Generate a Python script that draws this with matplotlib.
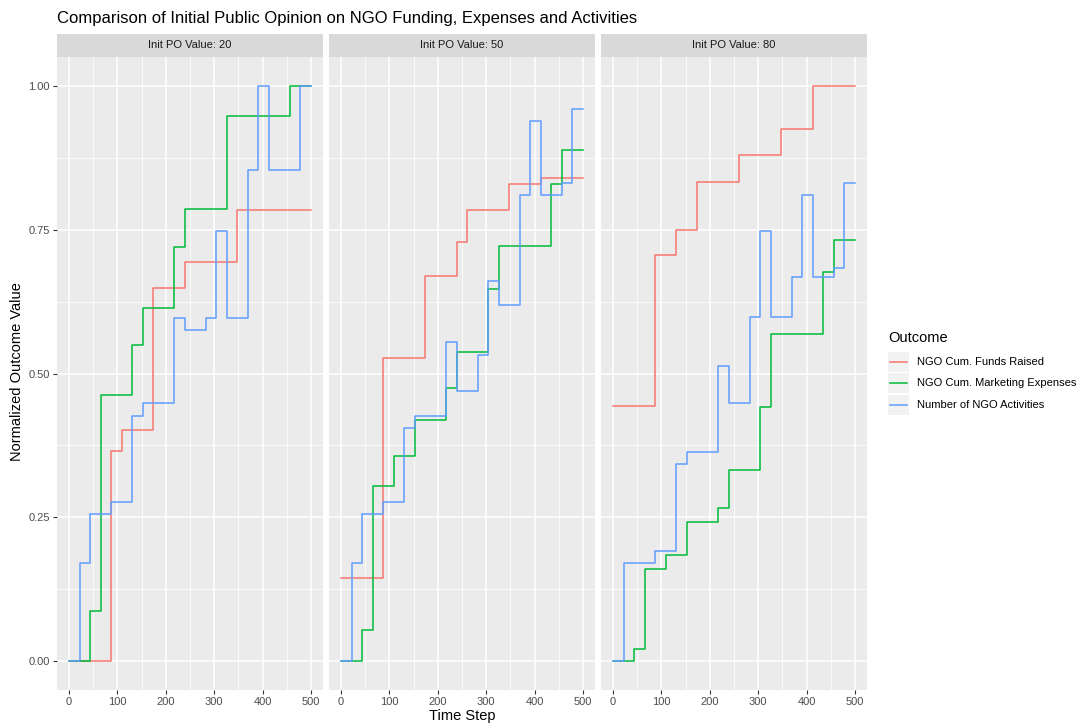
import matplotlib
matplotlib.use("Agg")
import matplotlib.pyplot as plt
from matplotlib.patches import Rectangle
from matplotlib.lines import Line2D

plt.rcParams['font.family'] = ['Liberation Sans', 'DejaVu Sans']

# time steps at which outcomes were recorded
time_steps = [0, 22, 43, 65, 87, 109, 130, 152, 174, 196, 217, 239,
              261, 283, 304, 326, 348, 370, 391, 413, 435, 457, 478, 500]

init_po_values = [20, 50, 80]
outcome_names = ['NGO Cum. Funds Raised', 'NGO Cum. Marketing Expenses',
                 'Number of NGO Activities']

funds_20 = [0, 0, 0, 0, .365, .401, .401, .401, .649, .649, .649, .693,
            .693, .693, .693, .693, .784, .784, .784, .784, .784, .784, .784, .784]
expenses_20 = [0, 0, .088, .462, .462, .462, .549, .613, .613, .613, .720, .785,
               .785, .785, .785, .947, .947, .947, .947, .947, .947, 1.0, 1.0, 1.0]
activities_20 = [0, .171, .256, .256, .277, .277, .427, .448, .448, .448, .597, .575,
                 .575, .597, .747, .597, .597, .853, 1.0, .853, .853, .853, 1.0, 1.0]

funds_50 = [.145, .145, .145, .145, .527, .527, .527, .527, .669, .669, .669, .728,
            .784, .784, .784, .784, .829, .829, .829, .839, .839, .839, .839, .839]
expenses_50 = [0, 0, .055, .304, .304, .357, .357, .420, .420, .420, .475, .538,
               .538, .538, .647, .722, .722, .722, .722, .722, .830, .888, .888, .888]
activities_50 = [0, .171, .256, .256, .277, .277, .405, .427, .427, .427, .555, .469,
                 .469, .533, .661, .619, .619, .811, .938, .811, .811, .831, .959, .959]

funds_80 = [.444, .444, .444, .444, .706, .706, .750, .750, .833, .833, .833, .833,
            .879, .879, .879, .879, .925, .925, .925, 1.0, 1.0, 1.0, 1.0, 1.0]
expenses_80 = [0, 0, .022, .161, .161, .184, .184, .242, .242, .242, .267, .333,
               .333, .333, .441, .569, .569, .569, .569, .569, .677, .732, .732, .732]
activities_80 = [0, .171, .171, .171, .192, .192, .342, .363, .363, .363, .513, .449,
                 .449, .598, .747, .598, .598, .668, .811, .668, .668, .683, .831, .831]

panel_data = {
    20: [funds_20, expenses_20, activities_20],
    50: [funds_50, expenses_50, activities_50],
    80: [funds_80, expenses_80, activities_80],
}
colors = ['#F8766D', '#00BA38', '#619CFF']

W, H = 1083, 725
fig = plt.figure(figsize=(W / 100, H / 100), dpi=100)
fig.patch.set_facecolor('white')


def px_box(x0, y0, x1, y1):
    return [x0 / W, 1 - y1 / H, (x1 - x0) / W, (y1 - y0) / H]


panel_lefts = [57, 329, 601]
panel_w = 266
top, bottom = 57, 690

for i, (left, po) in enumerate(zip(panel_lefts, init_po_values)):
    ax = fig.add_axes(px_box(left, top, left + panel_w, bottom))
    ax.set_facecolor('#EBEBEB')
    for s in ax.spines.values():
        s.set_visible(False)
    ax.set_xlim(-25, 525)
    ax.set_ylim(-0.05, 1.05)
    ax.set_xticks([0, 100, 200, 300, 400, 500])
    ax.set_xticks([50, 150, 250, 350, 450], minor=True)
    ax.set_yticks([0, 0.25, 0.5, 0.75, 1.0])
    ax.set_yticks([0.125, 0.375, 0.625, 0.875], minor=True)
    ax.grid(which='major', color='white', linewidth=1.1)
    ax.grid(which='minor', color='white', linewidth=0.55)
    ax.set_axisbelow(True)
    ax.tick_params(which='major', length=3, width=0.8, color='#333333',
                   labelsize=8, labelcolor='#4D4D4D', pad=2)
    ax.tick_params(which='minor', length=0)
    if i == 0:
        ax.set_yticklabels(['0.00', '0.25', '0.50', '0.75', '1.00'])
    else:
        ax.tick_params(axis='y', which='major', length=0, labelleft=False)

    for series, color in zip(panel_data[po], colors):
        ax.step(time_steps, series, where='post', color=color, linewidth=1.1)

    # facet strip
    sax = fig.add_axes(px_box(left, 34, left + panel_w, top))
    sax.set_facecolor('#D9D9D9')
    sax.set_xticks([])
    sax.set_yticks([])
    for s in sax.spines.values():
        s.set_visible(False)
    sax.text(0.5, 0.5, f'Init PO Value: {po}', ha='center', va='center',
             fontsize=8, color='#1A1A1A', transform=sax.transAxes)

fig.text(57 / W, 1 - 18 / H, 'Comparison of Initial Public Opinion on NGO Funding, Expenses and Activities',
         ha='left', va='center', fontsize=12, color='black')
fig.text((57 + 868) / 2 / W, 1 - 716 / H, 'Time Step', ha='center', va='center',
         fontsize=10.5)
fig.text(17 / W, 1 - 372 / H, 'Normalized Outcome Value', ha='center', va='center',
         rotation=90, fontsize=10.5)

# legend
fig.text(888 / W, 1 - 338 / H, 'Outcome', ha='left', va='center', fontsize=10.5)
row_y = [362, 383, 405]
for name, color, yc in zip(outcome_names, colors, row_y):
    fig.patches.append(Rectangle((888 / W, 1 - (yc + 10) / H), 21 / W, 20 / H,
                                 transform=fig.transFigure, facecolor='#F2F2F2',
                                 edgecolor='none'))
    fig.lines.append(Line2D([890 / W, 907 / W], [1 - yc / H, 1 - yc / H],
                            transform=fig.transFigure, color=color, linewidth=1.1))
    fig.text(917 / W, 1 - yc / H, name, ha='left', va='center', fontsize=8)

fig.savefig('out.png', dpi=100, facecolor='white')
